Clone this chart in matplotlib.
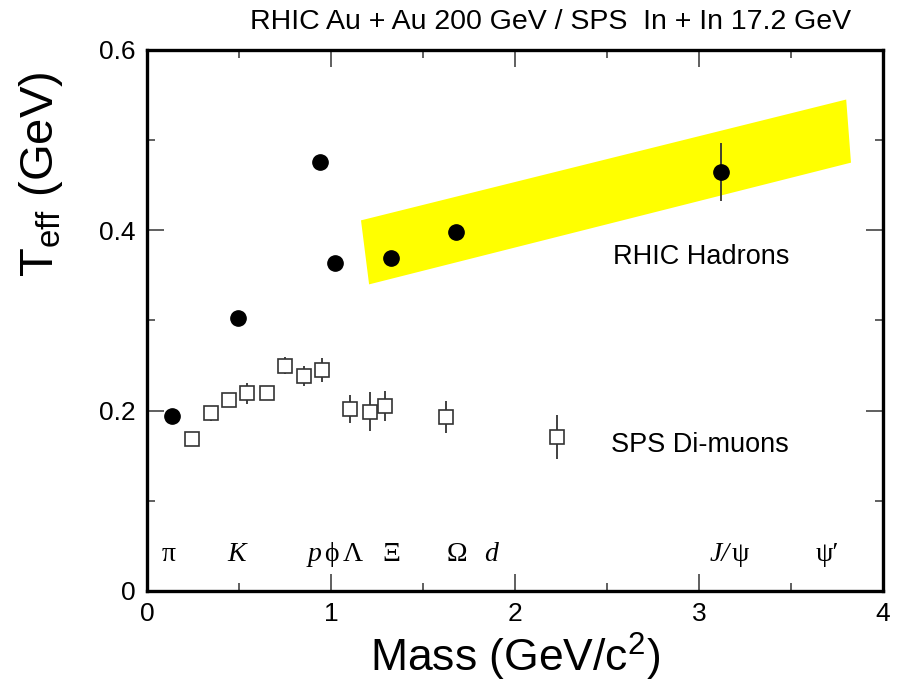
import matplotlib
matplotlib.use("Agg")
import matplotlib.pyplot as plt
from matplotlib.patches import Polygon
from matplotlib.ticker import MultipleLocator

# RHIC hadrons (filled circles)
rhic_mass = [0.136, 0.493, 0.939, 1.020, 1.324, 1.681, 3.120]
rhic_T = [0.194, 0.303, 0.476, 0.364, 0.369, 0.398, 0.465]
rhic_err = [0, 0, 0, 0, 0, 0, 0.032]

# SPS di-muons (open squares)
sps_mass = [0.245, 0.346, 0.446, 0.545, 0.650, 0.752, 0.851, 0.953,
            1.101, 1.214, 1.295, 1.625, 2.228]
sps_T = [0.169, 0.197, 0.2115, 0.219, 0.219, 0.250, 0.238, 0.245,
         0.2015, 0.199, 0.205, 0.193, 0.1705]
sps_err = [0.005, 0.008, 0.008, 0.0115, 0.006, 0.009, 0.011, 0.013,
           0.0155, 0.022, 0.017, 0.018, 0.0245]

# yellow band corners (mass, T)
band_mass = [1.163, 3.800, 3.826, 1.207]
band_T = [0.411, 0.545, 0.475, 0.340]

# particle names along the bottom
part_names = ['π', 'K', 'p', 'ϕ', 'Λ', 'Ξ', 'Ω', 'd', 'J/', 'ψ', 'ψ′']
part_mass = [0.12, 0.485, 0.91, 1.0, 1.12, 1.33, 1.685, 1.87, 3.11, 3.225, 3.70]
part_italic = [False, True, True, False, False, False, False, True, True, False, False]

x_ticks = [0, 1, 2, 3, 4]
y_ticks = [0, 0.2, 0.4, 0.6]
y_ticklabels = ['0', '0.2', '0.4', '0.6']

sans = ['Liberation Sans', 'DejaVu Sans']
serif = ['Liberation Serif', 'DejaVu Serif']

fig = plt.figure(figsize=(8.98, 6.84), dpi=100)
ax = fig.add_axes([0.1637, 0.136, 0.8196, 0.791])

band = Polygon(list(zip(band_mass, band_T)), closed=True,
               facecolor='#FFFF00', edgecolor='none', zorder=1)
ax.add_patch(band)

ax.errorbar(sps_mass, sps_T, yerr=sps_err, fmt='s', ms=10,
            mfc='white', mec='#333333', mew=1.2, ecolor='#333333',
            elinewidth=1.3, capsize=0, zorder=3)
ax.errorbar(rhic_mass, rhic_T, yerr=rhic_err, fmt='o', ms=11,
            mfc='black', mec='black', ecolor='#333333',
            elinewidth=1.3, capsize=0, zorder=4)

ax.text(2.53, 0.370, 'RHIC Hadrons', fontsize=19.5, va='center', ha='left', family=sans)
ax.text(2.52, 0.162, 'SPS Di-muons', fontsize=19.5, va='center', ha='left', family=sans)

for name, m, it in zip(part_names, part_mass, part_italic):
    ax.text(m, 0.040, name, fontsize=20, ha='center', va='center',
            style='italic' if it else 'normal', family=serif)

ax.set_xlim(0, 4)
ax.set_ylim(0, 0.6)
ax.set_xticks(x_ticks)
ax.set_xticklabels([str(t) for t in x_ticks])
ax.xaxis.set_minor_locator(MultipleLocator(0.5))
ax.set_yticks(y_ticks)
ax.set_yticklabels(y_ticklabels)
ax.yaxis.set_minor_locator(MultipleLocator(0.1))

ax.tick_params(which='both', direction='in', top=True, right=True,
               color='#444444', width=1.2, labelsize=19, pad=8)
ax.tick_params(which='major', length=12)
ax.tick_params(which='minor', length=6)
for lab in ax.get_xticklabels() + ax.get_yticklabels():
    lab.set_family(sans)

for sp in ax.spines.values():
    sp.set_linewidth(2.4)

ax.set_xlabel('Mass (GeV/c$^{\\mathregular{2}}$)', fontsize=32, family=sans)
ax.xaxis.set_label_coords(0.5, -0.073)
ax.set_ylabel('T$_{\\mathregular{eff}}$ (GeV)', fontsize=34, family=sans)
ax.yaxis.set_label_coords(-0.112, 0.77)

fig.text(551 / 898, 1 - 22 / 684, 'RHIC Au + Au 200 GeV / SPS  In + In 17.2 GeV',
         fontsize=20.5, ha='center', va='center', family=sans)

fig.savefig('out.png', dpi=100)
